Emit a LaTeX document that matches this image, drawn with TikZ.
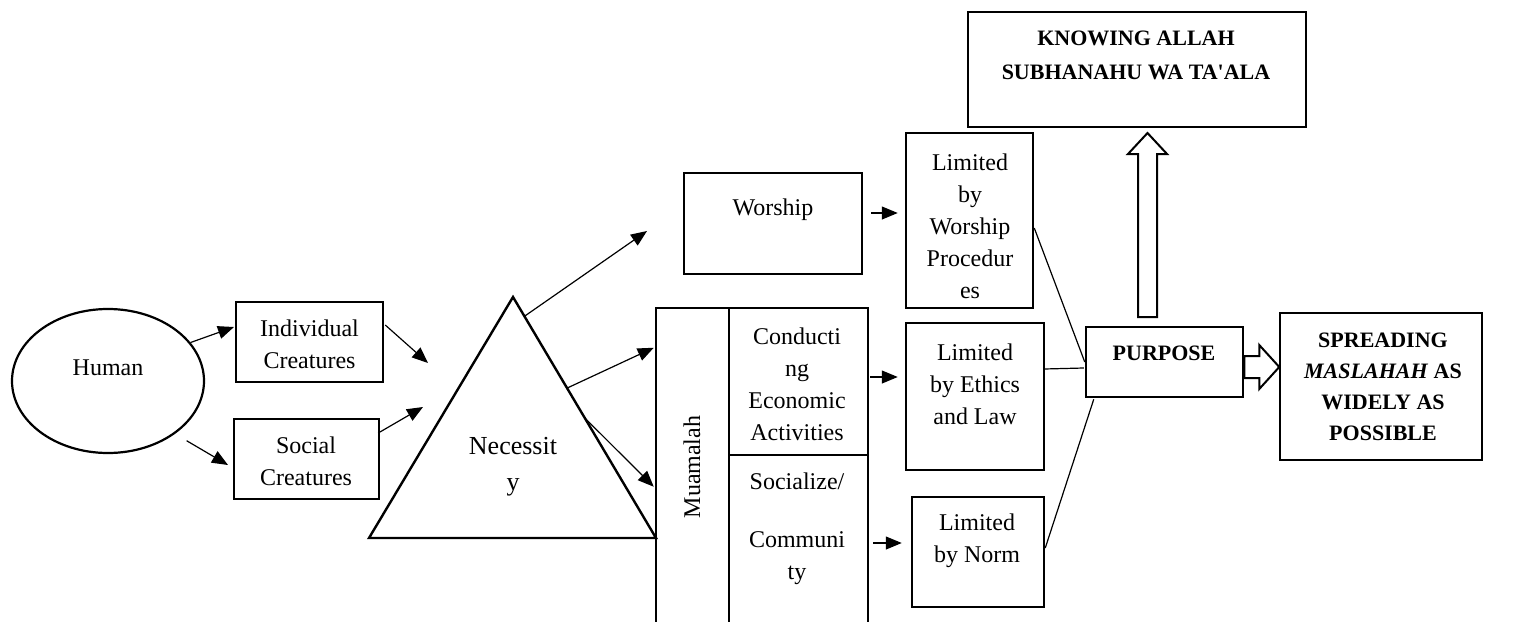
\documentclass[tikz,border=0pt]{standalone}
\usepackage{fontspec}
\setmainfont{Liberation Serif}
\usetikzlibrary{shapes.geometric,arrows.meta,calc}

\begin{document}
\begin{tikzpicture}[x=0.5pt,y=-0.5pt,
  frame/.style={draw, line width=1.25pt, rectangle, inner sep=0pt},
  txt/.style={align=center, inner sep=0pt, font=\fontsize{12}{16}\selectfont},
  btxt/.style={align=center, inner sep=0pt, font=\fontsize{11}{17}\selectfont\bfseries},
  arr/.style={-{Triangle[length=8pt,width=6.5pt]}, line width=0.6pt},
  link/.style={line width=0.6pt},
  hollow/.style={draw, line width=1pt, fill=white, line join=miter}]

\useasboundingbox (0,0) rectangle (1515,621);
\clip (0,0) rectangle (1515,621);
\fill[white] (0,0) rectangle (1515,621);

% left part: human and its two natures
\node[ellipse, draw, line width=1.1pt, minimum width=96pt, minimum height=72pt, inner sep=0pt] (human) at (108,381) {};
\node[txt] (tHuman) at (108,368) {Human};

\node[frame, minimum width=73.5pt, minimum height=40pt] (ind) at (309.5,342) {};
\node[txt] (tInd) at (309.5,344) {Individual\\Creatures};
\node[frame, minimum width=72.5pt, minimum height=40pt] (soc) at (306.5,459) {};
\node[txt] (tSoc) at (306,461) {Social\\Creatures};

% necessity triangle
\coordinate (triTop) at (513,297);
\coordinate (triL) at (369,538);
\coordinate (triR) at (656,538);
\draw[line width=1.2pt, line join=miter] (triTop) -- (triL) -- (triR) -- cycle;
\node[font=\fontsize{13}{18}\selectfont, align=center, inner sep=0pt] (tNec) at (513,467) {Necessit\\y};

% worship and muamalah
\node[frame, minimum width=89pt, minimum height=50.5pt] (wor) at (773,223.5) {};
\node[txt] (tWor) at (773,210) {Worship};

\node[frame, minimum width=36.5pt, minimum height=166pt] (mua) at (692.5,474) {};
\node[txt, rotate=90] (tMua) at (692,467) {Muamalah};
\node[frame, minimum width=69.5pt, minimum height=73.5pt] (cond) at (798.5,381.5) {};
\node[txt] (tCond) at (797,384) {Conducti\\ng\\Economic\\Activities};
\node[frame, minimum width=69.5pt, minimum height=92.5pt] (socz) at (798.5,547.5) {};
\node[txt] (tSocz) at (797,529) {Socialize/\\[13pt]Communi\\ty};

% limits
\node[frame, minimum width=63.5pt, minimum height=87.5pt] (lwp) at (969.5,220.5) {};
\node[txt] (tLwp) at (970,226) {Limited\\by\\Worship\\Procedur\\es};
\node[frame, minimum width=69pt, minimum height=73.5pt] (lel) at (975,396.5) {};
\node[txt] (tLel) at (975,384) {Limited\\by Ethics\\and Law};
\node[frame, minimum width=66pt, minimum height=55pt] (lnorm) at (978,552) {};
\node[txt] (tLnorm) at (977,541) {Limited\\by Norm};

% purpose and goals
\node[frame, minimum width=78.5pt, minimum height=35pt] (purp) at (1164.5,362) {};
\node[btxt] (tPurp) at (1164,353) {PURPOSE};
\node[frame, minimum width=169pt, minimum height=57.5pt] (know) at (1137,69.5) {};
\node[btxt] (tKnow) at (1136,55) {KNOWING ALLAH\\SUBHANAHU WA TA\textquotesingle ALA};
\node[frame, minimum width=101pt, minimum height=73.5pt] (spr) at (1381,386.5) {};
\node[btxt, font=\fontsize{11}{15.5}\selectfont\bfseries] (tSpr) at (1383,386.5) {SPREADING\\\textit{MASLAHAH} AS\\WIDELY AS\\POSSIBLE};

% arrows on the left
\coordinate (eInd) at (234,327);
\coordinate (eSoc) at (228,465);
\coordinate (eTri1) at (428,363);
\coordinate (eTri2) at (423,407);
\coordinate (eWor) at (647,231);
\draw[arr] (human.25) -- (eInd);
\draw[arr] ($(human.-37)+(10,8)$) -- (eSoc);
\draw[arr] ($(ind.east)+(1,-17)$) -- (eTri1);
\draw[arr] ($(soc.east)+(-2,-26)$) -- (eTri2);
\draw[arr] ($(triTop)!0.08!(triR)$) -- (eWor);
\draw[arr] ($(triTop)!0.378!(triR)$) -- ($(mua.north west)+(-1,41)$);
\draw[arr] ($(triTop)!0.502!(triR)$) -- ($(mua.north west)+(-1,180)$);

% arrows to the limits
\draw[arr] ($(wor.east)+(8,-10.5)$) -- ($(lwp.west)+(-7,-7.5)$);
\draw[arr] ($(cond.east)+(1,-4.5)$) -- ($(lel.west)+(-7,-19.5)$);
\draw[arr] ($(socz.east)+(4,-4.5)$) -- ($(lnorm.west)+(-9,-9)$);

% limits converge on purpose
\draw[link] ($(lwp.east)+(0,7.5)$) -- (purp.west);
\draw[link] ($(lel.east)+(-1,-27.5)$) -- ($(purp.west)+(-1,6)$);
\draw[link] ($(lnorm.east)+(0,-4)$) -- ($(purp.south west)+(9,1)$);

% hollow block arrows
\coordinate (upB) at (1147.5,317);
\draw[hollow] (upB) ++(-9.5,0) -- ++(0,-163) -- ++(-10,0) -- ++(19.5,-21) -- ++(19.5,21) -- ++(-10,0) -- ++(0,163) -- cycle;
\coordinate (rtB) at (purp.east |- 0,367);
\draw[hollow] (rtB) ++(0,-11) -- ++(15,0) -- ++(0,-11) -- ++(20,22) -- ++(-20,22) -- ++(0,-11) -- ++(-15,0) -- cycle;

\end{tikzpicture}
\end{document}
